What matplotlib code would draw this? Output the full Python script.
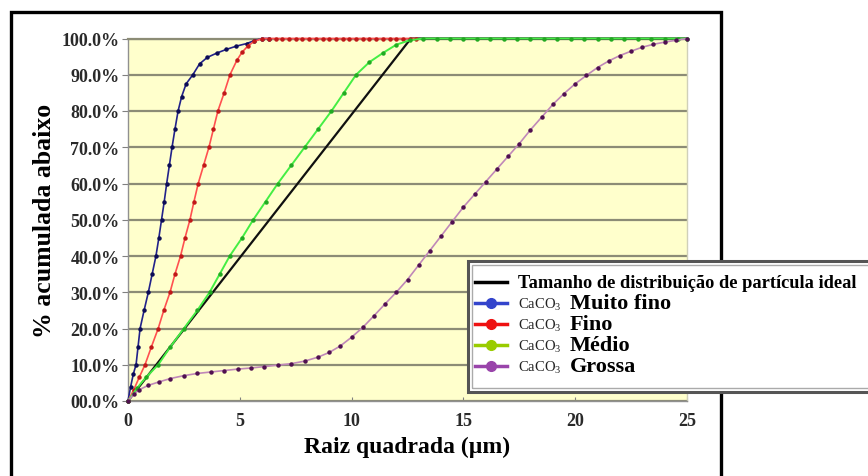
import matplotlib as mpl
mpl.use('Agg')

import matplotlib.pyplot as plt
from matplotlib.lines import Line2D
from matplotlib.patches import Rectangle
from matplotlib.ticker import FixedLocator, FuncFormatter

plt.rcParams['font.family'] = ['Liberation Serif', 'DejaVu Serif']
plt.rcParams['mathtext.fontset'] = 'custom'
plt.rcParams['mathtext.rm'] = 'Liberation Serif'

# ideal distribution
ideal_x = [0, 12.65, 25]
ideal_y = [0, 100, 100]

# CaCO3 muito fino
blue_x = [0, 0.12, 0.24, 0.36, 0.45, 0.54, 0.72, 0.91, 1.08, 1.25, 1.38, 1.5, 1.62,
          1.73, 1.85, 1.97, 2.1, 2.24, 2.4, 2.6, 2.9, 3.2, 3.55, 3.98, 4.4, 4.85,
          5.3, 5.65, 6.0, 6.3]
blue_y = [0, 4, 7.5, 10, 15, 20, 25, 30, 35, 40, 45, 50, 55,
          60, 65, 70, 75, 80, 84, 87.5, 90, 93, 94.8, 96, 97, 97.9,
          98.6, 99.4, 100, 100]

# CaCO3 fino
red_x = [0, 0.25, 0.5, 0.76, 1.05, 1.35, 1.6, 1.88, 2.1, 2.35, 2.55, 2.77, 2.95,
         3.14, 3.38, 3.62, 3.82, 4.02, 4.3, 4.56, 4.87, 5.1, 5.37, 5.65, 6.0,
         6.3, 6.6, 6.9, 7.2, 7.5, 7.8, 8.1, 8.4, 8.7, 9.0, 9.3, 9.6, 9.9, 10.2,
         10.5, 10.8, 11.1, 11.4, 11.7, 12.0, 12.3, 12.6, 12.9]
red_y = [0, 3, 6.5, 10, 15, 20, 25, 30, 35, 40, 45, 50, 55,
         60, 65, 70, 75, 80, 85, 90, 94, 96.2, 98, 99.2, 100,
         100, 100, 100, 100, 100, 100, 100, 100, 100, 100, 100, 100, 100, 100,
         100, 100, 100, 100, 100, 100, 100, 100, 100]

# CaCO3 medio
green_x = [0, 0.4, 0.8, 1.35, 1.9, 2.5, 3.1, 3.65, 4.1, 4.55, 5.1, 5.6, 6.15,
           6.7, 7.3, 7.9, 8.5, 9.1, 9.65, 10.2, 10.8, 11.4, 12.0, 12.6, 13.2,
           13.8, 14.4, 15.0, 15.6, 16.2, 16.8, 17.4, 18.0, 18.6, 19.2, 19.8,
           20.4, 21.0, 21.6, 22.2, 22.8, 23.4, 24.0, 24.6, 25.0]
green_y = [0, 3.5, 6.5, 10, 15, 20, 25, 30, 35, 40, 45, 50, 55,
           60, 65, 70, 75, 80, 85, 90, 93.5, 96, 98.3, 99.5, 100,
           100, 100, 100, 100, 100, 100, 100, 100, 100, 100, 100,
           100, 100, 100, 100, 100, 100, 100, 100, 100]

# CaCO3 grossa
purple_x = [0, 0.25, 0.5, 0.9, 1.4, 1.9, 2.5, 3.1, 3.7, 4.3, 4.9, 5.5, 6.1, 6.7,
            7.3, 7.9, 8.5, 9.0, 9.5, 10.0, 10.5, 11.0, 11.5, 12.0, 12.5, 13.0,
            13.5, 14.0, 14.5, 15.0, 15.5, 16.0, 16.5, 17.0, 17.5, 18.0, 18.5,
            19.0, 19.5, 20.0, 20.5, 21.0, 21.5, 22.0, 22.5, 23.0, 23.5, 24.0,
            24.5, 25.0]
purple_y = [0, 1.8, 3.1, 4.3, 5.3, 6.2, 7.0, 7.6, 8.0, 8.4, 8.8, 9.1, 9.5, 9.9,
            10.3, 11.0, 12.1, 13.4, 15.2, 17.6, 20.3, 23.5, 26.8, 30.0, 33.5, 37.5,
            41.5, 45.5, 49.5, 53.5, 57.0, 60.5, 64.0, 67.5, 71.0, 74.8, 78.3,
            81.8, 84.8, 87.5, 89.8, 92.0, 93.8, 95.3, 96.5, 97.6, 98.4, 99.0,
            99.5, 100]

x_ticks = [0, 5, 10, 15, 20, 25]
y_ticks = [0, 10, 20, 30, 40, 50, 60, 70, 80, 90, 100]

legend_labels = ["Tamanho de distribuição de partícula ideal",
                 "Muito fino", "Fino", "Médio", "Grossa"]
legend_colors = ["#000000", "#3344cc", "#ee1111", "#99cc00", "#9944aa"]

fig = plt.figure(figsize=(8.68, 4.77), dpi=100)
ax = fig.add_axes([128 / 868, 1 - 402 / 477, (687 - 128) / 868, (402 - 39.5) / 477])
ax.set_facecolor('#ffffcc')

ax.plot(ideal_x, ideal_y, color='#101010', lw=1.6, clip_on=False, zorder=3)
ax.plot(blue_x, blue_y, color='#22228a', lw=1.2, marker='o', ms=2.2,
        mfc='#0c0c55', mec='#0c0c55', clip_on=False, zorder=4)
ax.plot(red_x, red_y, color='#ff5050', lw=1.2, marker='o', ms=2.2,
        mfc='#c01818', mec='#c01818', clip_on=False, zorder=5)
ax.plot(green_x, green_y, color='#44ee44', lw=1.4, marker='o', ms=2.2,
        mfc='#22aa22', mec='#22aa22', clip_on=False, zorder=6)
ax.plot(purple_x, purple_y, color='#c088b8', lw=1.2, marker='o', ms=2.2,
        mfc='#501050', mec='#501050', clip_on=False, zorder=7)

ax.set_xlim(0, 25)
ax.set_ylim(0, 100)
ax.xaxis.set_major_locator(FixedLocator(x_ticks))
ax.yaxis.set_major_locator(FixedLocator(y_ticks))
ax.yaxis.set_major_formatter(FuncFormatter(lambda v, p: "%04.1f%%" % v))
ax.grid(axis='y', color='#8c8c76', lw=1.6, zorder=1)
ax.set_axisbelow(True)

for s in ['left', 'bottom']:
    ax.spines[s].set_color('#909090')
    ax.spines[s].set_linewidth(1.0)
ax.spines['top'].set_color('#8c8c76')
ax.spines['top'].set_linewidth(1.6)
ax.spines['right'].set_color('#d0d0b8')
ax.spines['right'].set_linewidth(1.0)

ax.tick_params(axis='y', direction='out', length=4, color='#808080', pad=2,
               labelsize=13, labelcolor='#2a2a2a')
ax.tick_params(axis='x', direction='in', length=3, color='#808080', pad=8,
               labelsize=13, labelcolor='#2a2a2a')
for lbl in ax.get_xticklabels() + ax.get_yticklabels():
    lbl.set_fontweight('bold')

ax.set_xlabel("Raiz quadrada (µm)", fontsize=17, fontweight='bold', labelpad=5)
ax.set_ylabel("% acumulada abaixo", fontsize=18.5, fontweight='bold', labelpad=4)

# outer frame
fig.add_artist(Rectangle((11 / 868, -0.05), (721 - 11) / 868, 1.05 - 13 / 477,
                         transform=fig.transFigure, fill=False, ec='black', lw=2.4))

# legend box
lx0, ly0 = 468 / 868, 1 - 393 / 477
fig.add_artist(Rectangle((lx0, ly0), 1.1 - lx0, (393 - 262) / 477,
                         transform=fig.transFigure, fc='white', ec='#555555', lw=2.2,
                         zorder=10))
fig.add_artist(Rectangle((lx0 + 4 / 868, ly0 + 4 / 477), 1.1 - lx0, (393 - 262 - 8) / 477,
                         transform=fig.transFigure, fill=False, ec='#aaaaaa', lw=1.0,
                         zorder=11))

rows_py = [283, 304, 325, 346, 367]
for i, (lab, col) in enumerate(zip(legend_labels, legend_colors)):
    yy = 1 - rows_py[i] / 477
    fig.add_artist(Line2D([475 / 868, 507 / 868], [yy, yy], transform=fig.transFigure,
                          color=col, lw=2.5, zorder=12))
    if i == 0:
        fig.text(518 / 868, yy, lab, fontsize=13.2, fontweight='bold', va='center',
                 zorder=12)
    else:
        fig.add_artist(Line2D([491 / 868], [yy], transform=fig.transFigure, marker='o',
                              ms=7, color=col, zorder=12))
        fig.text(518 / 868, yy - 1 / 477, r"CaCO$_3$", fontsize=10.5, va='center',
                 color='#222222', zorder=12)
        fig.text(570 / 868, yy, lab, fontsize=16, fontweight='bold', va='center',
                 zorder=12)

fig.savefig("out.png", dpi=100)
